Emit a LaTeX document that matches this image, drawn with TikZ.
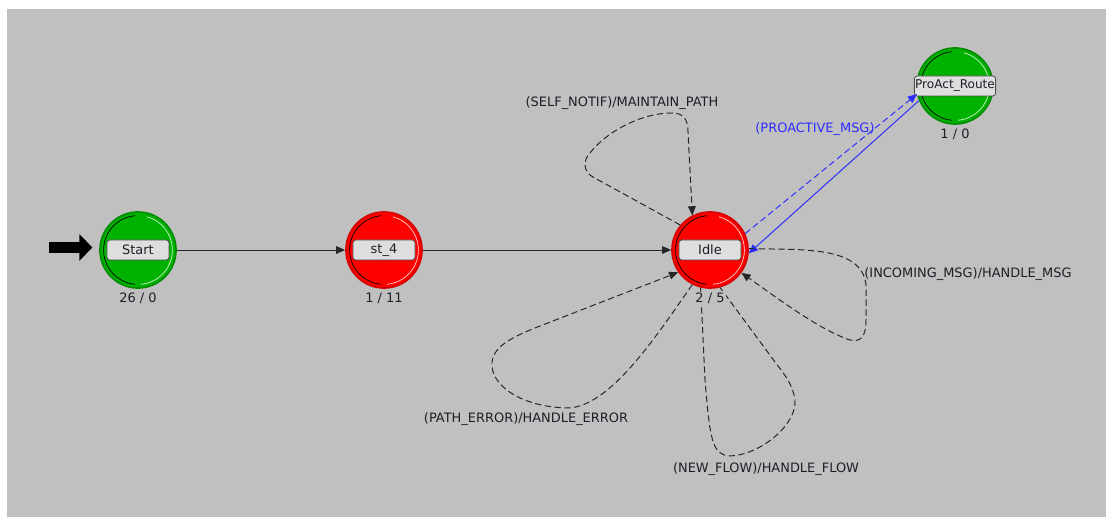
\documentclass[tikz,border=0pt]{standalone}
\usepackage{fontspec}
\setmainfont{DejaVu Sans}
\usetikzlibrary{arrows.meta,positioning}
\definecolor{panel}{RGB}{192,192,192}
\definecolor{stgreen}{RGB}{0,178,0}
\definecolor{stgreenedge}{RGB}{0,140,0}
\definecolor{stred}{RGB}{255,0,0}
\definecolor{strededge}{RGB}{215,0,0}
\definecolor{msgblue}{RGB}{45,45,255}
\definecolor{boxfill}{RGB}{222,222,222}
\definecolor{boxedge}{RGB}{80,80,80}
\definecolor{txt}{RGB}{30,30,40}
\tikzset{
  fsm/.style={circle, minimum size=1.9cm, inner sep=0pt, line width=1.2pt,
    path picture={
      \draw[black, line width=0.5pt] ([shift={(95:0.86cm)}]path picture bounding box.center)
        arc[start angle=95, end angle=265, radius=0.86cm];
      \draw[white, opacity=0.8, line width=0.5pt] ([shift={(-85:0.86cm)}]path picture bounding box.center)
        arc[start angle=-85, end angle=75, radius=0.86cm];
    }},
  forced/.style={fsm, fill=stgreen, draw=stgreenedge},
  unforced/.style={fsm, fill=stred, draw=strededge},
  namebox/.style={draw=boxedge, fill=boxfill, rounded corners=2pt, line width=0.6pt,
    minimum width=1.55cm, minimum height=0.5cm, inner sep=0.5pt, text=txt},
  count/.style={text=txt, fill=panel, inner sep=0.8pt},
  tlabel/.style={text=txt, inner sep=1pt},
  trans/.style={draw=black!85, line width=0.7pt, -{Triangle[length=6.5pt,width=5.5pt]}},
  dashy/.style={dash pattern=on 4.5pt off 2.5pt},
  selfloop/.style={trans, dashy},
  initarrow/.style={line width=7.8pt, -{Triangle[length=9.2pt,width=18.4pt]}, shorten >=0.17cm}
}
\begin{document}
\begin{tikzpicture}[x=0.025cm, y=0.025cm, font=\fontsize{9.2}{11}\selectfont]
  \useasboundingbox (0,0) rectangle (1106,-517);
  \fill[panel] (7,-9) rectangle (1106,-517);

  % states
  \node[forced] (start) at (138,-250) {};
  \node[unforced] (st4) at (384,-250) {};
  \node[unforced] (idle) at (710,-250) {};
  \node[forced] (proact) at (955,-86) {};
  \node[namebox] (start-name) at (start) {Start};
  \node[namebox] (st4-name) at (st4) {st\_4};
  \node[namebox] (idle-name) at (idle) {Idle};
  \node[namebox, font=\fontsize{8.6}{10}\selectfont] (proact-name) at (proact) {ProAct\_Route};

  % initial state marker
  \coordinate (init) at (49,-247.5);
  \draw[initarrow] (init) -- (start.west |- init);

  % transitions
  \draw[trans] (start) -- (st4);
  \draw[trans] (st4) -- (idle);
  \draw[trans, draw=msgblue, dashy] (idle.25) -- (proact.192);
  \draw[trans, draw=msgblue] (proact.202) -- (idle.355);

  \draw[selfloop] (idle.140) -- (593,-177)
    .. controls (583,-172) and (583,-160) .. (590,-153)
    .. controls (605,-133) and (640,-113) .. (672,-113)
    .. controls (684,-113) and (688,-120) .. (688,-132) -- (idle.117);
  \draw[selfloop] (idle.2) .. controls (800,-250) and (862,-245) .. (866,-285)
    -- (866,-320) .. controls (866,-338) and (860,-342) .. (850,-340)
    .. controls (820,-330) and (780,-300) .. (idle.-36);
  \draw[selfloop, -] (idle.256) -- (705,-380)
    .. controls (710,-440) and (712,-455) .. (730,-456)
    .. controls (760,-455) and (797,-425) .. (795,-400)
    .. controls (793,-385) and (785,-375) .. (775,-362) -- (idle.285);
  \draw[selfloop] (idle.243) .. controls (660,-330) and (610,-410) .. (565,-408)
    .. controls (520,-406) and (490,-385) .. (492,-362)
    .. controls (494,-345) and (515,-336) .. (540,-326) -- (idle.215);

  % execution counts
  \node[count, below=2pt of start] (start-count) {26 / 0};
  \node[count, below=2pt of st4] (st4-count) {1 / 11};
  \node[count, below=2pt of idle] (idle-count) {2 / 5};
  \node[count, below=2pt of proact] (proact-count) {1 / 0};

  % transition labels
  \node[tlabel] (lbl-notif) at (622,-103) {(SELF\_NOTIF)/MAINTAIN\_PATH};
  \node[tlabel, text=msgblue] (lbl-proactive) at (815,-129) {(PROACTIVE\_MSG)};
  \node[tlabel] (lbl-incoming) at (968,-274) {(INCOMING\_MSG)/HANDLE\_MSG};
  \node[tlabel] (lbl-error) at (526,-419) {(PATH\_ERROR)/HANDLE\_ERROR};
  \node[tlabel] (lbl-flow) at (766,-469) {(NEW\_FLOW)/HANDLE\_FLOW};
\end{tikzpicture}
\end{document}
